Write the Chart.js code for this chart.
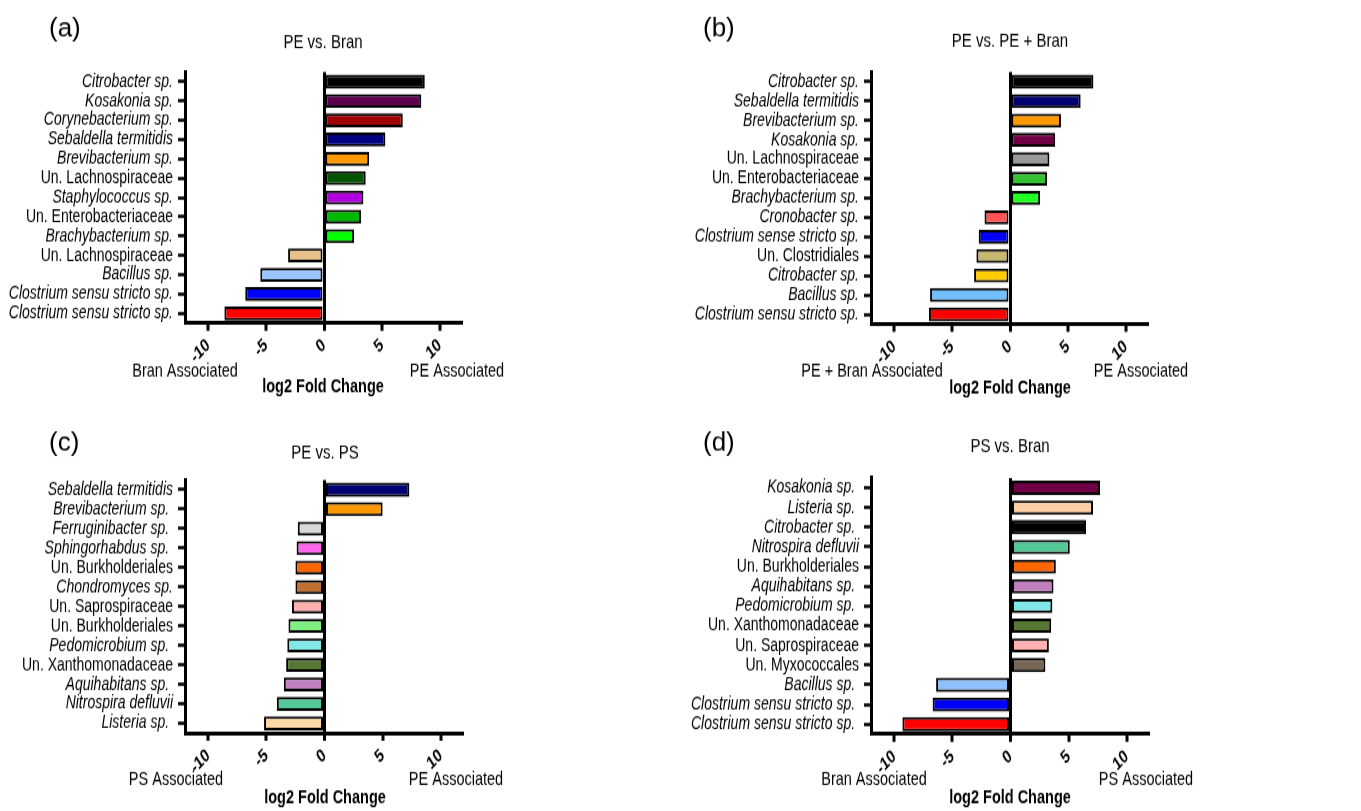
<!DOCTYPE html>
<html>
<head>
<meta charset="utf-8">
<script src="https://cdn.jsdelivr.net/npm/chart.js@4.4.1/dist/chart.umd.min.js"></script>
<style>
  body { margin: 0; background: #fff; }
  .panel { position: absolute; transform-origin: 0 0; }
</style>
</head>
<body>
<div class="panel" id="wrapA" style="left:0;top:0"><canvas id="chartA"></canvas></div>
<div class="panel" id="wrapB" style="left:680px;top:0"><canvas id="chartB"></canvas></div>
<div class="panel" id="wrapC" style="left:0;top:400px"><canvas id="chartC"></canvas></div>
<div class="panel" id="wrapD" style="left:680px;top:400px"><canvas id="chartD"></canvas></div>
<script>
const xTicks = [-10, -5, 0, 5, 10];

// (a) PE vs. Bran
const aLabels = ['Citrobacter sp.', 'Kosakonia sp.', 'Corynebacterium sp.', 'Sebaldella termitidis', 'Brevibacterium sp.',
  'Un. Lachnospiraceae', 'Staphylococcus sp.', 'Un. Enterobacteriaceae', 'Brachybacterium sp.', 'Un. Lachnospiraceae',
  'Bacillus sp.', 'Clostrium sensu stricto sp.', 'Clostrium sensu stricto sp.'];
const aValues = [8.7, 8.4, 6.8, 5.3, 3.9, 3.6, 3.4, 3.2, 2.6, -3.1, -5.5, -6.8, -8.6];
const aColors = ['#000000', '#5c004e', '#a00000', '#000080', '#ff9900', '#005500', '#b000e0', '#00b800', '#00ff00',
  '#e8c08a', '#99c4ff', '#0000ff', '#ff0000'];

// (b) PE vs. PE + Bran
const bLabels = ['Citrobacter sp.', 'Sebaldella termitidis', 'Brevibacterium sp.', 'Kosakonia sp.', 'Un. Lachnospiraceae',
  'Un. Enterobacteriaceae', 'Brachybacterium sp.', 'Cronobacter sp.', 'Clostrium sense stricto sp.', 'Un. Clostridiales',
  'Citrobacter sp.', 'Bacillus sp.', 'Clostrium sensu stricto sp.'];
const bValues = [7.2, 6.1, 4.4, 3.9, 3.4, 3.2, 2.6, -2.2, -2.7, -2.9, -3.1, -6.9, -7.0];
const bColors = ['#000000', '#000070', '#ff9900', '#700045', '#999999', '#33c033', '#22ff22', '#ff5555', '#0000ff',
  '#c8b870', '#ffcc00', '#70c0ff', '#ff0000'];

// (c) PE vs. PS
const cLabels = ['Sebaldella termitidis', 'Brevibacterium sp. ', 'Ferruginibacter sp. ', 'Sphingorhabdus sp. ',
  'Un. Burkholderiales', 'Chondromyces sp.', 'Un. Saprospiraceae', 'Un. Burkholderiales', 'Pedomicrobium sp. ',
  'Un. Xanthomonadaceae', 'Aquihabitans sp. ', 'Nitrospira defluvii', 'Listeria sp. '];
const cValues = [7.3, 5.0, -2.3, -2.4, -2.5, -2.5, -2.8, -3.1, -3.2, -3.3, -3.5, -4.1, -5.2];
const cColors = ['#000070', '#ff9900', '#d8d8d8', '#ff66ee', '#ff6600', '#c07030', '#ffb0b0', '#80ee80', '#80e8e8',
  '#557733', '#c080c0', '#55c89a', '#ffd8a8'];

// (d) PS vs. Bran
const dLabels = ['Kosakonia sp. ', 'Listeria sp. ', 'Citrobacter sp. ', 'Nitrospira defluvii', 'Un. Burkholderiales',
  'Aquihabitans sp. ', 'Pedomicrobium sp. ', 'Un. Xanthomonadaceae', 'Un. Saprospiraceae', 'Un. Myxococcales',
  'Bacillus sp. ', 'Clostrium sensu stricto sp. ', 'Clostrium sensu stricto sp. '];
const dValues = [7.7, 7.1, 6.5, 5.1, 3.9, 3.7, 3.6, 3.5, 3.3, 3.0, -6.4, -6.7, -9.3];
const dColors = ['#700045', '#ffd0a8', '#000000', '#55c89a', '#ff6600', '#c080c0', '#80e8e8', '#557733', '#ffb0b0',
  '#776655', '#90c0ff', '#0000ff', '#ff0000'];

const FONT = '"Liberation Sans", Arial, sans-serif';
// the original figure is stretched vertically, so each panel is drawn short and scaled up
const STRETCH = 1.3;

const panelText = {
  id: 'panelText',
  afterDraw(chart, args, o) {
    const c = chart.ctx, sy = o.sy;
    c.save();
    c.fillStyle = '#000';
    c.textBaseline = 'middle';
    // panel letter is not stretched in the original
    c.save();
    c.translate(o.lx, o.ly / sy);
    c.scale(1, 1 / sy);
    c.textAlign = 'left';
    c.font = '26px ' + FONT;
    c.fillText(o.letter, 0, 0);
    c.restore();
    c.textAlign = 'center';
    c.font = '15px ' + FONT;
    c.fillText(o.title, o.tx, o.ty / sy);
    c.font = '14.5px ' + FONT;
    c.fillText(o.left, o.leftX, o.sideY / sy);
    c.fillText(o.right, o.rightX, o.sideY / sy);
    c.font = 'bold 14.5px ' + FONT;
    c.fillText('log2 Fold Change', o.tx, o.axisY / sy);
    c.restore();
  }
};

function makePanel(id, wrapId, W, H, labels, values, colors, area, text) {
  const canvas = document.getElementById(id);
  const Hint = Math.round(H / STRETCH);
  const sy = H / Hint;
  canvas.width = W;
  canvas.height = Hint;
  document.getElementById(wrapId).style.transform = 'scaleY(' + sy + ')';
  text.sy = sy;
  const top = area.t / sy, bottom = area.b / sy;
  new Chart(canvas, {
    type: 'bar',
    data: {
      labels: labels,
      datasets: [{
        data: values,
        backgroundColor: colors,
        borderColor: '#000',
        borderWidth: 2,
        borderSkipped: false,
        barPercentage: 0.72,
        categoryPercentage: 1
      }]
    },
    options: {
      indexAxis: 'y',
      responsive: false,
      animation: false,
      layout: {
        autoPadding: false,
        padding: { left: 0, top: top, right: W - area.r, bottom: 0 }
      },
      plugins: {
        legend: { display: false },
        tooltip: { enabled: false },
        panelText: text
      },
      scales: {
        x: {
          min: -12,
          max: 12,
          afterBuildTicks: s => { s.ticks = xTicks.map(v => ({ value: v })); },
          afterFit: s => { s.height = Hint - bottom; },
          border: { display: true, color: '#000', width: 3 },
          grid: {
            drawOnChartArea: true,
            color: ctx => (ctx.tick && ctx.tick.value === 0) ? '#000' : 'rgba(0,0,0,0)',
            lineWidth: ctx => (ctx.tick && ctx.tick.value === 0) ? 3 : 0,
            tickColor: '#000',
            tickWidth: 3,
            tickLength: 6
          },
          ticks: {
            minRotation: 40,
            maxRotation: 40,
            padding: 3,
            color: '#000',
            font: { family: FONT, size: 14, weight: 'bold' }
          }
        },
        y: {
          afterFit: s => { s.width = area.l; },
          border: { display: true, color: '#000', width: 3 },
          grid: {
            offset: false,
            drawOnChartArea: false,
            tickColor: '#000',
            tickWidth: 2.5,
            tickLength: 7
          },
          ticks: {
            padding: 5,
            color: '#000',
            autoSkip: false,
            font: ctx => ({
              family: FONT,
              size: 14,
              style: labels[ctx.index].startsWith('Un.') ? 'normal' : 'italic'
            })
          }
        }
      }
    },
    plugins: [panelText]
  });
}

makePanel('chartA', 'wrapA', 680, 400, aLabels, aValues, aColors, { l: 185, r: 463, t: 72, b: 323 },
  { letter: '(a)', lx: 49, ly: 29, title: 'PE vs. Bran', tx: 323, ty: 43,
    left: 'Bran Associated', right: 'PE Associated', leftX: 185, rightX: 457, sideY: 372, axisY: 387 });
makePanel('chartB', 'wrapB', 681, 400, bLabels, bValues, bColors, { l: 191, r: 469, t: 72, b: 324 },
  { letter: '(b)', lx: 23, ly: 29, title: 'PE vs. PE + Bran', tx: 330, ty: 42,
    left: 'PE + Bran Associated', right: 'PE Associated', leftX: 192, rightX: 461, sideY: 372, axisY: 388 });
makePanel('chartC', 'wrapC', 680, 411, cLabels, cValues, cColors, { l: 185, r: 464, t: 80, b: 333 },
  { letter: '(c)', lx: 49, ly: 43, title: 'PE vs. PS', tx: 325, ty: 53,
    left: 'PS Associated', right: 'PE Associated', leftX: 176, rightX: 456, sideY: 380, axisY: 398 });
makePanel('chartD', 'wrapD', 681, 411, dLabels, dValues, dColors, { l: 191, r: 470, t: 78, b: 334 },
  { letter: '(d)', lx: 23, ly: 43, title: 'PS vs. Bran', tx: 330, ty: 46,
    left: 'Bran Associated', right: 'PS Associated', leftX: 194, rightX: 466, sideY: 380, axisY: 398 });
</script>
</body>
</html>
